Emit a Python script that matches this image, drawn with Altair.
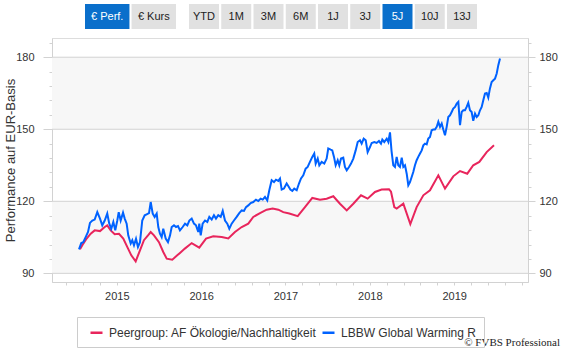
import altair as alt
import pandas as pd

# ---------------- data ----------------
fund_name = "LBBW Global Warming R"
peer_name = "Peergroup: AF Ökologie/Nachhaltigkeit"

fund_t = [2014.552, 2014.579, 2014.603, 2014.631, 2014.659, 2014.682, 2014.710, 2014.738, 2014.769, 2014.801,
          2014.828, 2014.857, 2014.887, 2014.911, 2014.935, 2014.959, 2014.982, 2015.006, 2015.023, 2015.046,
          2015.074, 2015.094, 2015.117, 2015.136, 2015.165, 2015.184, 2015.204, 2015.228, 2015.251, 2015.275,
          2015.302, 2015.331, 2015.354, 2015.382, 2015.402, 2015.426, 2015.449, 2015.473, 2015.492, 2015.512,
          2015.532, 2015.551, 2015.580, 2015.607, 2015.631, 2015.651, 2015.678, 2015.702, 2015.726, 2015.749,
          2015.781, 2015.809, 2015.836, 2015.860, 2015.888, 2015.915, 2015.939, 2015.966, 2015.978, 2015.995,
          2016.018, 2016.046, 2016.073, 2016.097, 2016.125, 2016.152, 2016.176, 2016.203, 2016.232, 2016.256,
          2016.283, 2016.310, 2016.334, 2016.362, 2016.389, 2016.421, 2016.452, 2016.481, 2016.508, 2016.532,
          2016.559, 2016.587, 2016.618, 2016.650, 2016.678, 2016.706, 2016.730, 2016.757, 2016.784, 2016.808,
          2016.836, 2016.864, 2016.887, 2016.915, 2016.935, 2016.955, 2016.982, 2017.014, 2017.040, 2017.058,
          2017.081, 2017.104, 2017.133, 2017.160, 2017.184, 2017.211, 2017.239, 2017.263, 2017.290, 2017.318,
          2017.341, 2017.358, 2017.382, 2017.401, 2017.429, 2017.460, 2017.488, 2017.507, 2017.536, 2017.555,
          2017.575, 2017.595, 2017.619, 2017.638, 2017.658, 2017.685, 2017.705, 2017.726, 2017.753, 2017.777,
          2017.804, 2017.832, 2017.856, 2017.883, 2017.903, 2017.927, 2017.951, 2017.974, 2018.002, 2018.022,
          2018.053, 2018.081, 2018.108, 2018.132, 2018.148, 2018.171, 2018.200, 2018.219, 2018.239, 2018.257,
          2018.278, 2018.298, 2018.318, 2018.337, 2018.357, 2018.378, 2018.397, 2018.417, 2018.437, 2018.456,
          2018.476, 2018.496, 2018.515, 2018.535, 2018.555, 2018.574, 2018.595, 2018.615, 2018.634, 2018.654,
          2018.674, 2018.693, 2018.713, 2018.733, 2018.752, 2018.772, 2018.793, 2018.812, 2018.832, 2018.852,
          2018.871, 2018.891, 2018.911, 2018.930, 2018.950, 2018.970, 2018.989, 2019.010, 2019.030, 2019.049,
          2019.069, 2019.089, 2019.108, 2019.128, 2019.148, 2019.167, 2019.187, 2019.207, 2019.226, 2019.247,
          2019.267, 2019.286, 2019.306, 2019.326, 2019.345, 2019.365, 2019.385, 2019.404, 2019.424, 2019.444,
          2019.464, 2019.484, 2019.504, 2019.523, 2019.543]
fund_v = [100.0, 102.6, 103.0, 105.1, 107.2, 111.0, 112.0, 112.4, 115.5, 112.8,
          110.0, 112.0, 114.9, 110.7, 108.6, 111.4, 107.9, 112.0, 115.5, 112.0,
          115.3, 112.8, 110.7, 105.8, 102.4, 103.8, 101.7, 104.4, 101.0, 103.0,
          112.0, 114.2, 114.6, 115.1, 119.7, 114.9, 113.5, 114.9, 109.3, 106.5,
          105.1, 108.6, 104.5, 103.0, 105.8, 109.3, 110.0, 109.3, 109.7, 107.9,
          109.3, 110.7, 110.0, 112.0, 112.8, 110.7, 110.0, 107.2, 110.7, 105.8,
          110.7, 112.0, 111.4, 113.5, 112.4, 114.2, 112.8, 114.2, 113.5, 116.0,
          112.0, 110.7, 108.6, 110.7, 112.0, 113.5, 115.1, 116.2, 116.0, 117.6,
          118.3, 119.3, 119.7, 120.7, 120.1, 121.1, 120.7, 121.8, 120.4, 124.6,
          128.8, 128.0, 129.0, 128.5, 129.5, 124.9, 125.3, 127.4, 126.0, 124.9,
          124.3, 125.3, 124.6, 127.4, 129.5, 130.8, 133.6, 134.3, 136.4, 138.5,
          139.9, 135.7, 137.8, 135.0, 136.4, 135.7, 137.8, 142.0, 141.5, 141.2,
          138.5, 135.0, 137.1, 135.0, 137.8, 138.2, 134.3, 132.9, 134.3, 135.7,
          137.8, 141.2, 144.7, 145.4, 144.0, 146.1, 145.4, 140.5, 142.6, 144.3,
          144.7, 144.3, 145.1, 144.0, 145.7, 144.7, 146.1, 144.7, 148.7, 141.0,
          135.0, 134.3, 138.5, 135.0, 134.3, 138.2, 134.3, 135.0, 131.5, 126.7,
          128.0, 130.1, 132.2, 135.0, 137.1, 138.5, 139.9, 141.2, 143.3, 144.0,
          143.7, 146.1, 146.8, 149.6, 149.9, 149.9, 151.0, 153.1, 151.0, 152.4,
          149.9, 147.5, 151.0, 155.1, 155.8, 157.2, 158.6, 159.3, 160.7, 161.4,
          151.7, 157.2, 157.9, 157.9, 159.3, 161.0, 157.9, 157.2, 153.5, 156.5,
          155.1, 155.8, 157.9, 159.3, 162.1, 164.9, 165.1, 163.2, 167.0, 169.7,
          170.4, 171.1, 173.2, 176.7, 179.5]

peer_t = [2014.564, 2014.603, 2014.643, 2014.691, 2014.738, 2014.801, 2014.857, 2014.887, 2014.928, 2014.975,
          2015.026, 2015.077, 2015.124, 2015.172, 2015.224, 2015.275, 2015.322, 2015.370, 2015.402, 2015.441,
          2015.500, 2015.551, 2015.592, 2015.658, 2015.717, 2015.749, 2015.807, 2015.888, 2015.978, 2016.058,
          2016.144, 2016.244, 2016.322, 2016.401, 2016.481, 2016.559, 2016.618, 2016.698, 2016.777, 2016.848,
          2016.915, 2016.974, 2017.045, 2017.145, 2017.231, 2017.318, 2017.409, 2017.488, 2017.567, 2017.646,
          2017.726, 2017.804, 2017.895, 2017.974, 2018.061, 2018.140, 2018.227, 2018.251, 2018.290, 2018.318,
          2018.397, 2018.480, 2018.555, 2018.634, 2018.713, 2018.812, 2018.891, 2018.989, 2019.069, 2019.155,
          2019.226, 2019.298, 2019.385, 2019.472]
peer_v = [100.0, 102.4, 104.5, 106.5, 107.9, 107.6, 109.3, 110.0, 107.9, 106.3,
          106.5, 104.5, 101.0, 97.5, 95.0, 99.6, 103.8, 105.8, 107.2, 105.8,
          103.0, 98.9, 96.1, 95.7, 97.5, 98.5, 100.3, 102.6, 100.7, 104.5,
          105.4, 105.1, 104.5, 107.2, 109.3, 110.7, 113.5, 115.1, 116.5, 117.0,
          116.5, 115.5, 114.9, 113.8, 117.6, 121.4, 120.7, 121.1, 122.1, 119.0,
          116.2, 119.0, 122.5, 121.1, 123.9, 124.9, 125.0, 124.0, 117.6, 117.0,
          119.0, 110.5, 117.6, 122.5, 124.6, 130.8, 125.3, 130.4, 132.6, 131.5,
          135.0, 136.4, 140.5, 143.3]

series_order = [peer_name, fund_name]
series_colors = ["#e8255c", "#0062ff"]

band_lo = [90, 150]
band_hi = [120, 180]
grid_vals = [90, 120, 150, 180]
y_ticks = list(range(90, 187, 6))
x_ticks = [round(2014.4 + 0.2 * i, 1) for i in range(28)]

buttons_a = ["€ Perf.", "€ Kurs"]
buttons_b = ["YTD", "1M", "3M", "6M", "1J", "3J", "5J", "10J", "13J"]
active_buttons = ["€ Perf.", "5J"]
credit = ["© FVBS Professional"]

# ---------------- frames ----------------
lines_df = pd.concat([
    pd.DataFrame({"t": peer_t, "v": peer_v, "s": peer_name}),
    pd.DataFrame({"t": fund_t, "v": fund_v, "s": fund_name}),
])
bands_df = pd.DataFrame({"lo": band_lo, "hi": band_hi})
grid_df = pd.DataFrame({"g": grid_vals})
btn_a_df = pd.DataFrame({"b": buttons_a, "on": [b in active_buttons for b in buttons_a]})
btn_b_df = pd.DataFrame({"b": buttons_b, "on": [b in active_buttons for b in buttons_b]})
credit_df = pd.DataFrame({"c": credit})

W, H = 476, 244
FONT = "Liberation Sans"
TXT = "#333333"
GRID = "#d2d2d2"

yscale = alt.Scale(domain=[86.4, 188.0], nice=False, zero=False)
xscale = alt.Scale(domain=[2014.232, 2019.875], nice=False, zero=False)

major = "datum.value % 30 === 0"
year_lbl = "abs(datum.value - round(datum.value)) < 0.01 ? format(round(datum.value), 'd') : ''"

bands = alt.Chart(bands_df).mark_rect(color="#f7f7f7").encode(
    y=alt.Y("lo:Q", scale=yscale, axis=None),
    y2="hi:Q",
)

grid = alt.Chart(grid_df).mark_rule(color=GRID, strokeWidth=1).encode(
    y=alt.Y("g:Q", scale=yscale, axis=alt.Axis(
        orient="right", values=y_ticks, title=None,
        labelExpr=f"{major} ? datum.label : ''", labelOverlap=False,
        tickSize={"condition": {"test": major, "value": 7}, "value": 3},
        tickColor=GRID, domainColor=GRID, labelPadding=4,
        labelFont=FONT, labelFontSize=11, labelColor=TXT, grid=False)),
)

lines = alt.Chart(lines_df).mark_line(strokeWidth=2).encode(
    x=alt.X("t:Q", scale=xscale, axis=alt.Axis(
        values=x_ticks, title=None,
        labelExpr=year_lbl, labelOverlap=False,
        tickSize=3, tickColor=GRID, domainColor=GRID, labelPadding=5,
        labelFont=FONT, labelFontSize=11, labelColor=TXT, grid=False, labelFlush=False)),
    y=alt.Y("v:Q", scale=yscale, axis=alt.Axis(
        orient="left", values=y_ticks, title="Performance auf EUR-Basis",
        labelExpr=f"{major} ? datum.label : ''", labelOverlap=False,
        tickSize={"condition": {"test": major, "value": 9}, "value": 3},
        tickColor=GRID, domainColor=GRID, labelPadding=9,
        labelFont=FONT, labelFontSize=11, labelColor=TXT, grid=False,
        titleFont=FONT, titleFontSize=13, titleFontWeight="normal", titleColor=TXT,
        titleX=-42, titleY=122, titleBaseline="middle")),
    color=alt.Color("s:N", scale=alt.Scale(domain=series_order, range=series_colors),
                    legend=alt.Legend(orient="none", legendX=25, legendY=279, direction="horizontal",
                                      title=None, symbolType="stroke", symbolStrokeWidth=2.5,
                                      symbolSize=144, symbolOffset=4, labelFont=FONT, labelFontSize=12,
                                      labelColor=TXT, labelLimit=400, labelOffset=5, columnPadding=0,
                                      strokeColor="#cccccc", padding=8)),
    order=alt.Order("t:Q"),
)

main = alt.layer(bands, grid, lines).resolve_axis(y="independent")

btn_fill = alt.condition("datum.on", alt.value("#0a6fcb"), alt.value("#e1e1e1"))
btn_text = alt.condition("datum.on", alt.value("white"), alt.value("#222222"))

def button_group(df, names, rng, pad):
    xs = alt.X("b:N", scale=alt.Scale(domain=names, range=rng, paddingInner=pad, paddingOuter=0), axis=None)
    r = alt.Chart(df).mark_rect().encode(x=xs, y=alt.value(-34), y2=alt.value(-9), color=btn_fill)
    t = alt.Chart(df).mark_text(font=FONT, fontSize=11, baseline="middle").encode(
        x=alt.X("b:N", scale=alt.Scale(domain=names, range=rng, paddingInner=pad, paddingOuter=0),
                axis=None, bandPosition=0.5),
        y=alt.value(-21.5), text="b:N", color=btn_text)
    return alt.layer(r, t)

btn_a = button_group(btn_a_df, buttons_a, [33, 124], 0.045)
btn_b = button_group(btn_b_df, buttons_b, [137, 425], 0.07)

credit_mark = alt.Chart(credit_df).mark_text(
    font="Liberation Serif", fontSize=11, align="right", baseline="middle", color="#222222"
).encode(x=alt.value(508), y=alt.value(305), text="c:N")

chart = alt.layer(main, btn_a, btn_b, credit_mark).resolve_scale(x="independent").properties(
    width=W, height=H,
    autosize=alt.AutoSizeParams(type="none"),
    padding={"left": 52, "top": 38, "right": 38, "bottom": 71},
).configure_view(stroke=GRID, strokeWidth=1).configure(background="white")

chart.save("out.html", embed_options={"renderer": "svg", "actions": False})
